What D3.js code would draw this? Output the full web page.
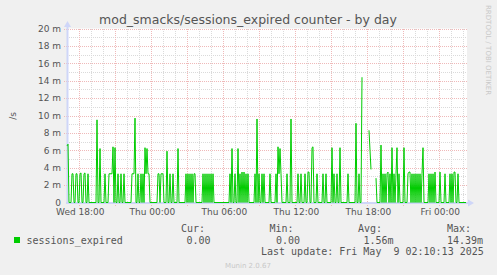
<!DOCTYPE html>
<html>
<head>
<meta charset="utf-8">
<script src="https://cdn.jsdelivr.net/npm/d3@7"></script>
<style>
  body { margin: 0; background: #f0f0f0; }
  text { font-family: "DejaVu Sans", sans-serif; fill: #555; }
  .mono { font-family: "DejaVu Sans Mono", monospace; font-size: 10px; }
</style>
</head>
<body>
<div id="chart"></div>
<script>
// sessions_expired rate, in milli-per-second, one sample per 5 minutes
// (null = no data). First sample is Wed 16:58:30.
const sessionsExpired = [
  6.5, 6.7, 0, 0, 0, 3.3, 3.3, 0, 0, 3.3,
  3.3, 0, 0, 3.3, 3.4, 0, 0, 3.3, 3.4, 0,
  0, 3.3, 0, 0, 0, 0, 0, 0, 0, 0,
  9.5, 0, 0, 6.2, 0, 0, 0, 0, 3.3, 0,
  0, 0, 3.3, 3.3, 3.3, 3.3, 6.4, 0, 6.3, 0,
  0, 3.3, 0, 0, 3.3, 0, 0, 3.3, 0, 0,
  0, 0, 0, 0, 0, 3.3, 3.3, 3.3, 9.7, 0,
  0, 3.3, 0, 0, 3.3, 0, 3.3, 0, 6.3, 3.3,
  6.2, 3.3, 3.3, 0, 0, 0, 0, 0, 0, 0,
  0, 3.3, 3.3, 0, 3.3, 3.3, 3.3, 0, 0, 0,
  5.9, 0, 0, 3.3, 0, 0, 3.3, 0, 0, 0,
  0, 6.2, 0, 0, 0, 0, 0, 0, 0, 3.3,
  0, 3.3, 0, 3.3, 0, 3.3, 0, 3.3, 3.3, 0,
  0, 0, 0, 0, 0, 0, 3.3, 0, 3.3, 0,
  3.3, 0, 3.3, 0, 3.3, 0, 3.3, 0, 0, 0,
  0, 0, 0, 0, 0, 0, 0, 0, 0, 0,
  0, 0, 0, 3.3, 0, 6.2, 0, 0, 3.3, 0,
  0, 6.2, 0, 3.3, 0, 3.5, 0, 3.5, 0, 3.3,
  0, 3.3, 0, 0, 0, 0, 0, 0, 3.3, 0,
  9.6, 0, 3.3, 0, 0, 3.3, 0, 3.3, 0, 0,
  0, 0, 0, 3.3, 0, 0, 0, 0, 0, 3.3,
  0, 6.4, 3.3, 6.2, 3.3, 0, 0, 0, 0, 0,
  3.3, 0, 0, 0, 9.6, 0, 0, 0, 0, 0,
  0, 3.3, 0, 0, 3.3, 0, 0, 0, 3.3, 0,
  0, 3.5, 3.5, 0, 0, 6.3, 6.4, 0, 0, 0,
  3.3, 0, 0, 0, 0, 0, 3.3, 0, 0, 3.3,
  0, 0, 0, 0, 0, 6.3, 0, 3.3, 0, 0,
  3.3, 0, 0, 6.3, 0, 0, 0, 0, 0, 0,
  0, 3.3, 0, 0, 0, 0, 0, 0, 0, 9.1,
  0, 0, 3.3, 0, 0, 14.4, null, null, null, null,
  null, null, 8.3, 6.0, 3.8, null, null, null, null, 2.8,
  0, 0, 0, 0, 6.6, 0, 3.3, 0, 3.3, 0,
  3.3, 3.5, 0, 3.3, 0, 6.3, 0, 3.3, 0, 3.3,
  6.3, 0, 3.3, 0, 0, 0, 0, 6.3, 0, 0,
  0, 3.3, 3.5, 3.5, 0, 3.3, 0, 3.3, 0, 3.3,
  0, 3.3, 0, 3.3, 0, 3.3, 6.3, 0, 0, 0,
  0, 0, 3.3, 0, 3.3, 0, 3.3, 0, 3.5, 0,
  0, 0, 0, 3.5, 0, 0, 0, 0, 3.3, 0,
  0, 0, 0, 3.3, 0, 3.3, 0, 3.5, 3.5, 0,
  0, 3.3, 0, 0, 0, 0, 0, 0, 0, 0
]

const yTicks = [0, 2, 4, 6, 8, 10, 12, 14, 16, 18, 20]
const legendHeaders = ['Cur:', 'Min:', 'Avg:', 'Max:']
const legendValues = ['0.00', '0.00', '1.56m', '14.39m']

const width = 497
const height = 275
const plotLeft = 67, plotRight = 467, plotTop = 28.5, plotBottom = 202.5
const start = new Date(2025, 4, 7, 16, 58, 30)
const stepMs = 5 * 60 * 1000
const end = new Date(+start + 400 * stepMs)

const svg = d3.select('#chart').append('svg')
  .attr('width', width)
  .attr('height', height)

svg.append('rect').attr('width', width).attr('height', height).attr('fill', '#f0f0f0')

const x = d3.scaleTime().domain([start, end]).range([plotLeft, plotRight])
const y = d3.scaleLinear().domain([0, 20]).range([plotBottom, plotTop])

svg.append('rect')
  .attr('x', plotLeft).attr('y', plotTop)
  .attr('width', plotRight - plotLeft).attr('height', plotBottom - plotTop)
  .attr('fill', '#fff')

const grid = svg.append('g').attr('shape-rendering', 'crispEdges')
const minorColor = '#dadada'
const majorColor = '#efb9b9'

// minor grid
grid.selectAll('.vmin').data(x.ticks(d3.timeHour.every(1)))
  .enter().append('line')
  .attr('x1', d => Math.round(x(d)) + 0.5).attr('x2', d => Math.round(x(d)) + 0.5)
  .attr('y1', plotTop).attr('y2', plotBottom)
  .attr('stroke', minorColor).attr('stroke-dasharray', '1,1')

grid.selectAll('.hmin').data(d3.range(1, 20, 2))
  .enter().append('line')
  .attr('x1', plotLeft).attr('x2', plotRight)
  .attr('y1', d => Math.round(y(d)) + 0.5).attr('y2', d => Math.round(y(d)) + 0.5)
  .attr('stroke', minorColor).attr('stroke-dasharray', '1,1')

// major grid
grid.selectAll('.vmaj').data(x.ticks(d3.timeHour.every(3)))
  .enter().append('line')
  .attr('x1', d => Math.round(x(d)) + 0.5).attr('x2', d => Math.round(x(d)) + 0.5)
  .attr('y1', plotTop).attr('y2', plotBottom + 3)
  .attr('stroke', majorColor).attr('stroke-dasharray', '1,1')

grid.selectAll('.hmaj').data(yTicks.filter(d => d > 0))
  .enter().append('line')
  .attr('x1', plotLeft - 3).attr('x2', plotRight)
  .attr('y1', d => Math.round(y(d)) + 0.5).attr('y2', d => Math.round(y(d)) + 0.5)
  .attr('stroke', majorColor).attr('stroke-dasharray', '1,1')

// y labels
svg.append('g').selectAll('text').data(yTicks)
  .enter().append('text')
  .attr('x', 61)
  .attr('y', d => y(d) + 3.2)
  .attr('text-anchor', 'end')
  .attr('font-size', '9px')
  .text(d => d === 0 ? '0' : d + ' m')

// x labels
svg.append('g').selectAll('text').data(x.ticks(d3.timeHour.every(6)))
  .enter().append('text')
  .attr('x', d => x(d) + 1)
  .attr('y', 214.5)
  .attr('text-anchor', 'middle')
  .attr('font-size', '9px')
  .text(d3.timeFormat('%a %H:%M'))

// axes with arrows
const axisColor = '#cfd6f8'
svg.append('line')
  .attr('x1', plotLeft + 0.5).attr('x2', plotLeft + 0.5)
  .attr('y1', plotBottom + 1).attr('y2', 24)
  .attr('stroke', axisColor).attr('stroke-width', 2)
svg.append('path')
  .attr('d', `M${plotLeft - 3},27 L${plotLeft + 0.5},21 L${plotLeft + 4},27 Z`)
  .attr('fill', axisColor)
svg.append('line')
  .attr('x1', plotLeft - 1).attr('x2', plotRight + 3)
  .attr('y1', plotBottom + 0.5).attr('y2', plotBottom + 0.5)
  .attr('stroke', axisColor).attr('stroke-width', 2)
svg.append('path')
  .attr('d', `M${plotRight + 1},${plotBottom - 3} L${plotRight + 7},${plotBottom + 0.5} L${plotRight + 1},${plotBottom + 4} Z`)
  .attr('fill', axisColor)

// series
const line = d3.line()
  .defined(d => d != null)
  .x((d, i) => x(new Date(+start + i * stepMs)))
  .y(d => y(d))

svg.append('path')
  .datum(sessionsExpired)
  .attr('d', line)
  .attr('fill', 'none')
  .attr('stroke', '#00cc00')
  .attr('stroke-width', 1)

// title and side texts
svg.append('text')
  .attr('x', 248).attr('y', 24)
  .attr('text-anchor', 'middle')
  .attr('font-size', '12.5px')
  .text('mod_smacks/sessions_expired counter - by day')

svg.append('text')
  .attr('transform', 'translate(16,116) rotate(-90)')
  .attr('text-anchor', 'middle')
  .attr('font-size', '9px')
  .text('/s')

svg.append('text')
  .attr('transform', 'translate(486,5) rotate(90)')
  .attr('font-size', '7px')
  .style('fill', '#c8c8c8')
  .text('RRDTOOL / TOBI OETIKER')

// legend
svg.append('rect')
  .attr('x', 14).attr('y', 237).attr('width', 6).attr('height', 6)
  .attr('fill', '#00cc00')
svg.append('text').attr('class', 'mono')
  .attr('x', 26.5).attr('y', 243.5).text('sessions_expired')

const headerX = [181, 269.5, 358, 447]
const valueX = [186.5, 276, 363.5, 447]
svg.append('g').selectAll('text').data(legendHeaders)
  .enter().append('text').attr('class', 'mono')
  .attr('x', (d, i) => headerX[i]).attr('y', 231.5)
  .text(d => d)
svg.append('g').selectAll('text').data(legendValues)
  .enter().append('text').attr('class', 'mono')
  .attr('x', (d, i) => valueX[i]).attr('y', 243.5)
  .text(d => d)

svg.append('text').attr('class', 'mono')
  .attr('x', 261).attr('y', 255)
  .style('white-space', 'pre')
  .text('Last update: Fri May  9 02:10:13 2025')

svg.append('text')
  .attr('x', 248).attr('y', 268)
  .attr('text-anchor', 'middle')
  .attr('font-size', '7px')
  .style('fill', '#c8c8c8')
  .text('Munin 2.0.67')
</script>
</body>
</html>
